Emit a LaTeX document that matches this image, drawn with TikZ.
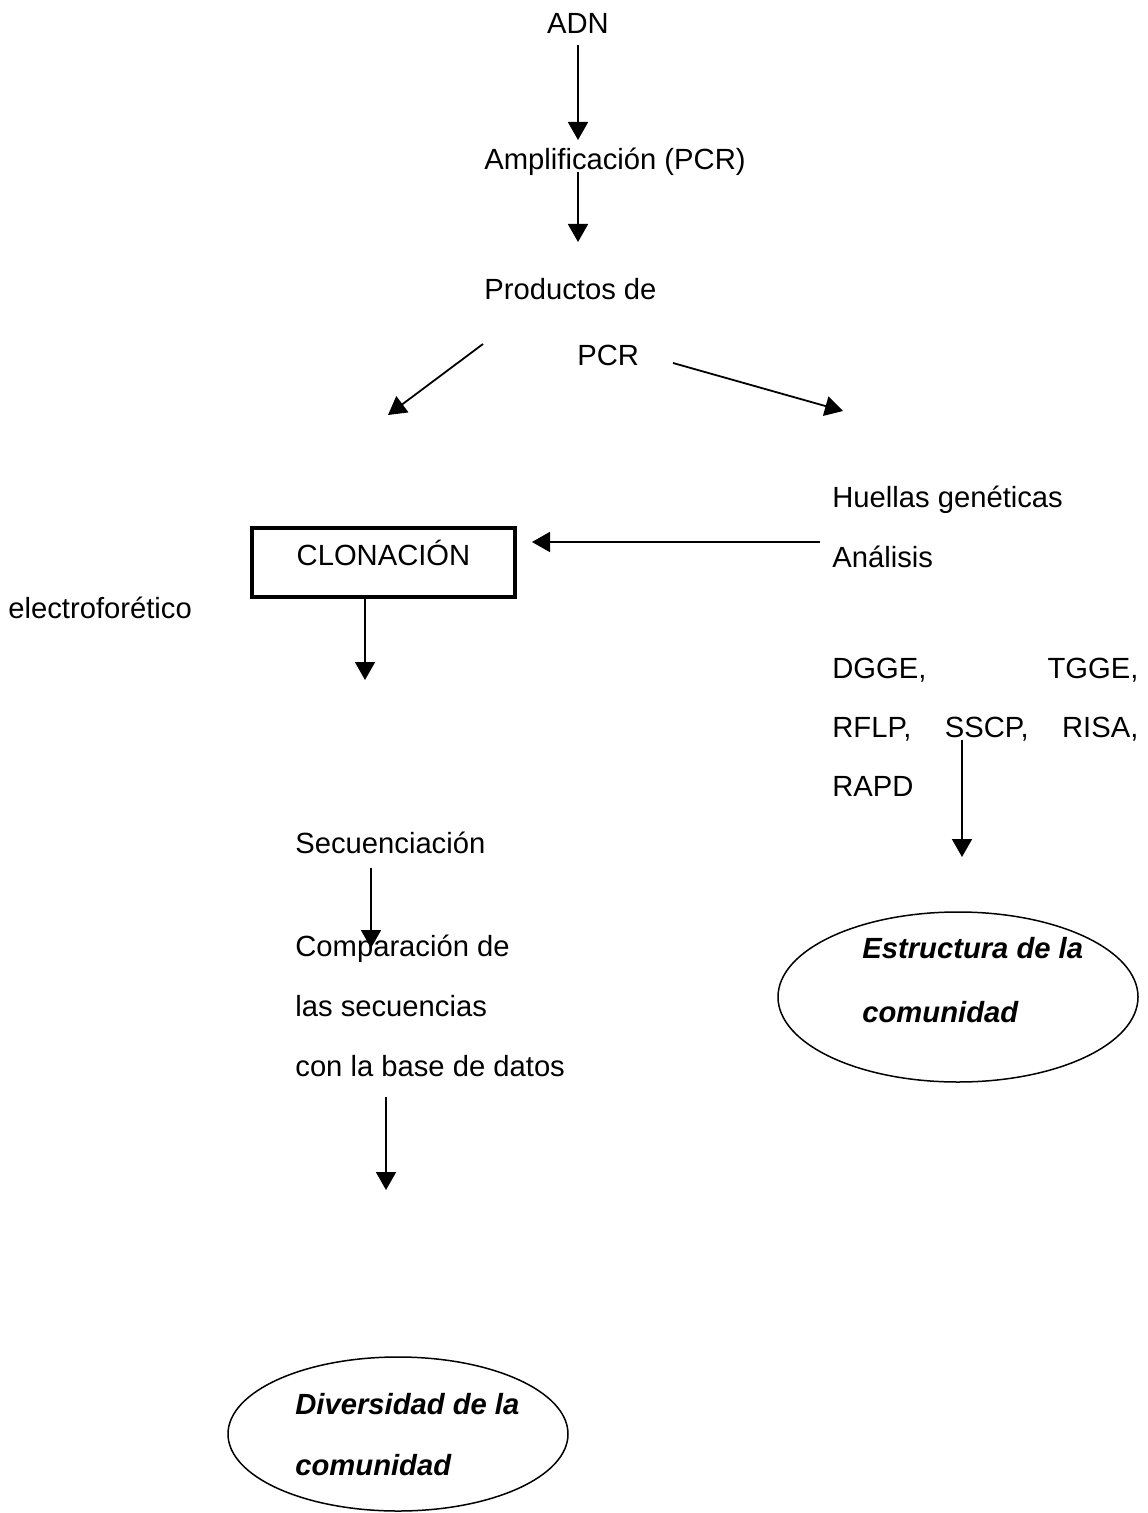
\documentclass[tikz,border=0pt]{standalone}
\usepackage{fontspec}
\setmainfont{Liberation Sans}
\usetikzlibrary{arrows.meta,shapes.geometric}

\tikzset{
  texto/.style={anchor=base west, inner sep=0pt, font=\fontsize{14.6pt}{17pt}\selectfont},
  resultado/.style={texto, font=\fontsize{14.6pt}{17pt}\selectfont\bfseries\itshape},
  flecha/.style={line width=0.9pt, -{Triangle[length=9pt,width=10pt]}},
  caja/.style={draw, line width=2.2pt, minimum width=131.5pt, minimum height=34.3pt, inner sep=0pt,
    text height=10.45pt, text depth=7pt, font=\fontsize{14.6pt}{17pt}\selectfont},
  ovalo/.style={draw, ellipse, line width=0.75pt, inner sep=0pt},
}

\begin{document}
\begin{tikzpicture}[x=0.5pt,y=-0.5pt]
    \useasboundingbox (0,0) rectangle (1147,1513);
    % columna central
    \node[texto, anchor=base] (adn) at (578,34) {ADN};
    \node[texto] (ampl) at (484,170) {Amplificación (PCR)};
    \node[texto] (prod) at (484,300) {Productos de};
    \node[texto] (pcr) at (577,366) {PCR};
    % rama derecha
    \node[texto] (huellas) at (832,507) {Huellas genéticas};
    \node[texto] (analisis) at (832,567) {Análisis};
    \node[texto, text width=153pt, font=\fontsize{14.6pt}{29.5pt}\selectfont] (tecnicas) at (832,678)
        {\noindent DGGE,\hfill TGGE,\\ RFLP,\hfill SSCP,\hfill RISA,\\ RAPD};
    \node[ovalo, minimum width=180pt, minimum height=85pt] (ovaloE) at (958,997) {};
    \node[resultado] (estructura) at (862,958) {Estructura de la};
    \node[resultado] (comunidadE) at (862,1022) {comunidad};
    % rama izquierda
    \node[caja] (clon) at (383.5,562.5) {CLONACIÓN};
    \node[texto] (electro) at (8,618) {electroforético};
    \node[texto] (secuen) at (295,853) {Secuenciación};
    \node[texto] (compar) at (295,956) {Comparación de};
    \node[texto] (lassec) at (295,1016) {las secuencias};
    \node[texto] (datos) at (295,1076) {con la base de datos};
    \node[ovalo, minimum width=170pt, minimum height=77pt] (ovaloD) at (398,1434) {};
    \node[resultado] (diversidad) at (295,1414) {Diversidad de la};
    \node[resultado] (comunidadD) at (295,1475) {comunidad};
    % flechas
    \coordinate (f1a) at (578,45);   \coordinate (f1b) at (578,140);
    \coordinate (f2a) at (578,172);  \coordinate (f2b) at (578,242);
    \coordinate (f3a) at (483,344);  \coordinate (f3b) at (388,415);
    \coordinate (f4a) at (673,363);  \coordinate (f4b) at (843,411);
    \coordinate (f5a) at (820,542);  \coordinate (f5b) at (532,542);
    \coordinate (f6b) at (365,680);
    \coordinate (f7a) at (962,740);  \coordinate (f7b) at (962,857);
    \coordinate (f8a) at (371,868);  \coordinate (f8b) at (371,948);
    \coordinate (f9a) at (386,1097); \coordinate (f9b) at (386,1190);
    \draw[flecha] (f1a) -- (f1b);
    \draw[flecha] (f2a) -- (f2b);
    \draw[flecha] (f3a) -- (f3b);
    \draw[flecha] (f4a) -- (f4b);
    \draw[flecha] (f5a) -- (f5b);
    \draw[flecha] (clon.south -| f6b) -- (f6b);
    \draw[flecha] (f7a) -- (f7b);
    \draw[flecha] (f8a) -- (f8b);
    \draw[flecha] (f9a) -- (f9b);
\end{tikzpicture}
\end{document}
